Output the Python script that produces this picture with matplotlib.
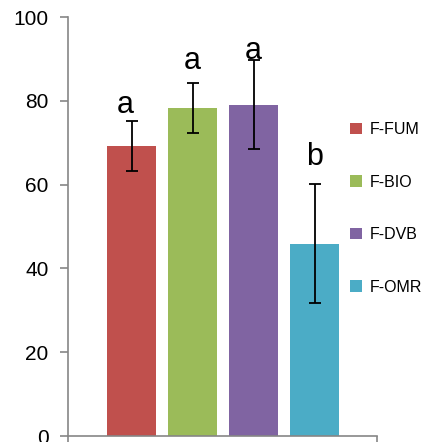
import matplotlib
matplotlib.use("Agg")
import matplotlib.pyplot as plt
from matplotlib.patches import Patch

categories = ["F-FUM", "F-BIO", "F-DVB", "F-OMR"]
values = [69.2, 78.3, 79.1, 45.9]
errors = [5.9, 5.9, 10.6, 14.2]
letters = ["a", "a", "a", "b"]
letter_y = [79.0, 89.5, 92.0, 66.5]
colors = ["#C0504D", "#9BBB59", "#8064A2", "#4BACC6"]
yticks = [0, 20, 40, 60, 80, 100]

fig = plt.figure(figsize=(4.22, 4.42), dpi=100)
ax = fig.add_axes([68/422, 6/442, (377-68)/422, (436-17)/442])

x = list(range(len(categories)))
ax.bar(x, values, width=0.8, color=colors, zorder=2)
ax.errorbar(x, values, yerr=errors, fmt="none", ecolor="black", elinewidth=1.3,
            capsize=4.5, capthick=1.3, zorder=3)
for xi, (l, ly) in enumerate(zip(letters, letter_y)):
    ax.text(xi - (0.1 if xi == 0 else 0), ly, l, ha="center", va="center", fontsize=22,
            family="Liberation Sans")

ax.set_xlim(-1.04, 4.02)
ax.set_ylim(0, 100)
ax.set_yticks(yticks)
ax.set_yticklabels([str(t) for t in yticks], fontsize=15, family="Liberation Sans")
ax.set_xticks([-1.04, 4.02])
ax.set_xticklabels(["", ""])
for s in ["top", "right"]:
    ax.spines[s].set_visible(False)
for s in ["left", "bottom"]:
    ax.spines[s].set_color("#868686")
    ax.spines[s].set_linewidth(1.2)
ax.tick_params(axis="both", colors="#868686", length=6, width=1.2, labelcolor="black")
ax.tick_params(axis="y", pad=8)
for lbl in ax.get_yticklabels():
    lbl.set_clip_on(False)

handles = [Patch(facecolor=c, edgecolor="none", label=n) for c, n in zip(colors, categories)]
fig.legend(handles=handles, loc="upper left", bbox_to_anchor=(350/422, 1 - 122/442),
           frameon=False, borderpad=0, borderaxespad=0, labelspacing=2.35,
           handlelength=0.72, handleheight=0.72, handletextpad=0.5,
           prop={"family": "Liberation Sans", "size": 11.5})

fig.savefig("out.png", dpi=100)
